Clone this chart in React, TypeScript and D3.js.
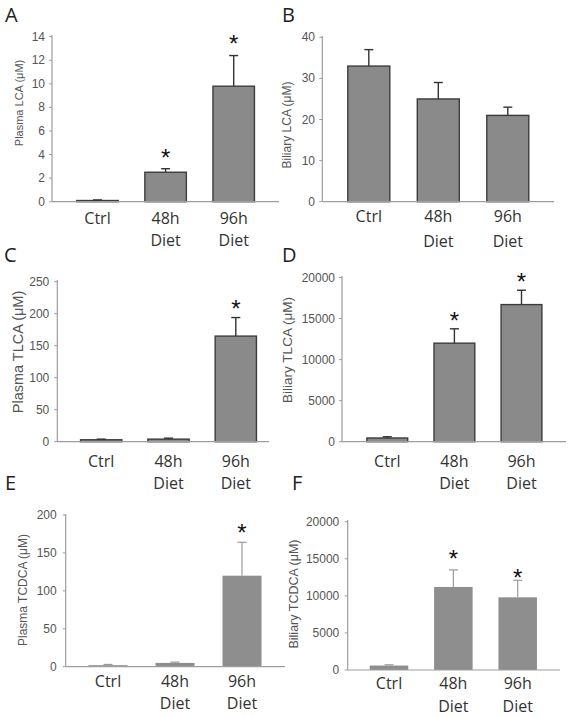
import React from "react";
import * as d3 from "d3";

// ---- data ----
const categories = ["Ctrl", "48h Diet", "96h Diet"];

const plasmaLCA = [0.1, 2.5, 9.8];
const plasmaLCAErr = [0.05, 0.3, 2.6];
const plasmaLCASig = [false, true, true];
const plasmaLCATicks = [0, 2, 4, 6, 8, 10, 12, 14];

const biliaryLCA = [33, 25, 21];
const biliaryLCAErr = [4, 4, 2];
const biliaryLCASig = [false, false, false];
const biliaryLCATicks = [0, 10, 20, 30, 40];

const plasmaTLCA = [3, 4, 165];
const plasmaTLCAErr = [1, 1.5, 29];
const plasmaTLCASig = [false, false, true];
const plasmaTLCATicks = [0, 50, 100, 150, 200, 250];

const biliaryTLCA = [450, 12000, 16700];
const biliaryTLCAErr = [150, 1750, 1750];
const biliaryTLCASig = [false, true, true];
const biliaryTLCATicks = [0, 5000, 10000, 15000, 20000];

const plasmaTCDCA = [2, 5, 120];
const plasmaTCDCAErr = [1, 1, 44];
const plasmaTCDCASig = [false, false, true];
const plasmaTCDCATicks = [0, 50, 100, 150, 200];

const biliaryTCDCA = [600, 11200, 9800];
const biliaryTCDCAErr = [100, 2300, 2300];
const biliaryTCDCASig = [false, true, true];
const biliaryTCDCATicks = [0, 5000, 10000, 15000, 20000];

type PanelCfg = {
  letter: string;
  values: number[];
  errors: number[];
  sig: boolean[];
  ticks: number[];
  yLabel: string;
  // layout
  x0: number;
  x1: number;
  yBottom: number;
  yTop: number;
  axisTop: number;
  c1: number;
  c3: number;
  bw: number;
  letterX: number;
  letterY: number;
  labelX: number;
  labelY: number;
  labelSize: number;
  tickRight: number;
  catY1: number;
  catY2: number;
  outlined: boolean;
  starGap: number[];
};

const panels: PanelCfg[] = [
  {
    letter: "A", values: plasmaLCA, errors: plasmaLCAErr, sig: plasmaLCASig, ticks: plasmaLCATicks,
    yLabel: "Plasma LCA (\u03bcM)",
    x0: 52, x1: 279, yBottom: 201.7, yTop: 36.7, axisTop: 35, c1: 97.5, c3: 233.7, bw: 41.5,
    letterX: 5, letterY: 22, labelX: 19, labelY: 103, labelSize: 11, tickRight: 45,
    catY1: 223.5, catY2: 246, outlined: true, starGap: [15, 15, 16],
  },
  {
    letter: "B", values: biliaryLCA, errors: biliaryLCAErr, sig: biliaryLCASig, ticks: biliaryLCATicks,
    yLabel: "Biliary LCA (\u03bcM)",
    x0: 322.3, x1: 554, yBottom: 201.7, yTop: 37.3, axisTop: 36, c1: 368.8, c3: 507.8, bw: 42,
    letterX: 282, letterY: 22, labelX: 287, labelY: 125, labelSize: 12, tickRight: 315,
    catY1: 222, catY2: 246.5, outlined: true, starGap: [14, 14, 14],
  },
  {
    letter: "C", values: plasmaTLCA, errors: plasmaTLCAErr, sig: plasmaTLCASig, ticks: plasmaTLCATicks,
    yLabel: "Plasma TLCA (\u03bcM)",
    x0: 57.3, x1: 269, yBottom: 441.7, yTop: 281.7, axisTop: 280, c1: 101.2, c3: 235.8, bw: 41.3,
    letterX: 4, letterY: 262, labelX: 17.5, labelY: 352, labelSize: 14.5, tickRight: 49.3,
    catY1: 466.5, catY2: 488.5, outlined: true, starGap: [13, 13, 13],
  },
  {
    letter: "D", values: biliaryTLCA, errors: biliaryTLCAErr, sig: biliaryTLCASig, ticks: biliaryTLCATicks,
    yLabel: "Biliary TLCA (\u03bcM)",
    x0: 342, x1: 566, yBottom: 441.7, yTop: 277.5, axisTop: 276, c1: 387.3, c3: 521.5, bw: 40.8,
    letterX: 282, letterY: 262, labelX: 287, labelY: 350, labelSize: 13.5, tickRight: 335,
    catY1: 466.5, catY2: 488.5, outlined: true, starGap: [12, 12, 13],
  },
  {
    letter: "E", values: plasmaTCDCA, errors: plasmaTCDCAErr, sig: plasmaTCDCASig, ticks: plasmaTCDCATicks,
    yLabel: "Plasma TCDCA (\u03bcM)",
    x0: 65.7, x1: 285, yBottom: 666.7, yTop: 515, axisTop: 514, c1: 108, c3: 242, bw: 39,
    letterX: 5, letterY: 490, labelX: 23.3, labelY: 590, labelSize: 12, tickRight: 56.7,
    catY1: 686.5, catY2: 708.5, outlined: false, starGap: [14, 14, 14],
  },
  {
    letter: "F", values: biliaryTCDCA, errors: biliaryTCDCAErr, sig: biliaryTCDCASig, ticks: biliaryTCDCATicks,
    yLabel: "Biliary TCDCA (\u03bcM)",
    x0: 347.7, x1: 560, yBottom: 670, yTop: 521.7, axisTop: 520, c1: 389, c3: 517.7, bw: 38.5,
    letterX: 292, letterY: 490, labelX: 294, labelY: 594, labelSize: 12.5, tickRight: 339.3,
    catY1: 688.5, catY2: 711.5, outlined: false, starGap: [15, 15, 7],
  },
];

const TICK_FONT = "'Liberation Sans', Arial, sans-serif";
const CAT_FONT = "'Open Sans', 'Noto Sans', sans-serif";

function Panel({ p }: { p: PanelCfg }) {
  const step = (p.c3 - p.c1) / 2;
  const pi = 1 - p.bw / step;
  const x = d3
    .scaleBand<string>()
    .domain(categories)
    .range([p.c1 - step / 2, p.c3 + step / 2])
    .paddingInner(pi)
    .paddingOuter(pi / 2);
  const yMax = p.ticks[p.ticks.length - 1];
  const y = d3.scaleLinear().domain([0, yMax]).range([p.yBottom, p.yTop]);
  const errColor = p.outlined ? "#333" : "#9a9a9a";
  const capHalf = 4.5;

  return (
    <g>
      <text x={p.letterX} y={p.letterY} fontFamily={CAT_FONT} fontSize={20} fill="#222">
        {p.letter}
      </text>
      {/* y axis */}
      <line x1={p.x0} x2={p.x0} y1={p.axisTop} y2={p.yBottom} stroke="#9e9e9e" strokeWidth={1.2} />
      {p.ticks.map((t) => (
        <g key={t}>
          <line x1={p.x0 - 3} x2={p.x0} y1={y(t)} y2={y(t)} stroke="#9e9e9e" strokeWidth={1} />
          <text
            x={p.tickRight}
            y={y(t)}
            textAnchor="end"
            dominantBaseline="central"
            fontFamily={TICK_FONT}
            fontSize={12}
            fill="#555"
          >
            {t}
          </text>
        </g>
      ))}
      <text
        transform={`translate(${p.labelX},${p.labelY}) rotate(-90)`}
        textAnchor="middle"
        dominantBaseline="central"
        fontFamily={TICK_FONT}
        fontSize={p.labelSize}
        fill="#555"
      >
        {p.yLabel}
      </text>
      {/* bars */}
      {categories.map((c, i) => {
        const v = p.values[i];
        const e = p.errors[i];
        const bx = x(c) as number;
        const cx = bx + x.bandwidth() / 2;
        const top = y(v);
        const errTop = y(v + e);
        return (
          <g key={c}>
            <rect
              x={bx}
              y={top}
              width={x.bandwidth()}
              height={Math.max(0.5, p.yBottom - top)}
              fill={p.outlined ? "#8a8a8a" : "#8e8e8e"}
              stroke={p.outlined ? "#3c3c3c" : "none"}
              strokeWidth={1.4}
            />
            <line x1={cx} x2={cx} y1={top} y2={errTop} stroke={errColor} strokeWidth={p.outlined ? 1.4 : 1.2} />
            <line x1={cx - capHalf} x2={cx + capHalf} y1={errTop} y2={errTop} stroke={errColor} strokeWidth={p.outlined ? 1.4 : 1.2} />
            {p.sig[i] && (
              <text
                x={cx}
                y={errTop - p.starGap[i] + 12.5}
                textAnchor="middle"
                fontFamily={TICK_FONT}
                fontSize={24}
                fill="#111"
              >
                *
              </text>
            )}
          </g>
        );
      })}
      {/* x axis */}
      <line x1={p.x0} x2={p.x1} y1={p.yBottom} y2={p.yBottom} stroke="#9e9e9e" strokeWidth={1.2} />
      {categories.map((c) => {
        const cx = (x(c) as number) + x.bandwidth() / 2;
        const parts = c.split(" ");
        return (
          <text key={c} textAnchor="middle" fontFamily={CAT_FONT} fontSize={16} fill="#333">
            <tspan x={cx} y={p.catY1}>{parts[0]}</tspan>
            {parts[1] && <tspan x={cx} y={p.catY2}>{parts[1]}</tspan>}
          </text>
        );
      })}
    </g>
  );
}

export default function App() {
  return (
    <svg
      width={572}
      height={718}
      style={{ position: "absolute", left: 0, top: 0, background: "#fff" }}
    >
      <rect x={0} y={0} width={572} height={718} fill="#fff" />
      {panels.map((p) => (
        <Panel key={p.letter} p={p} />
      ))}
    </svg>
  );
}
